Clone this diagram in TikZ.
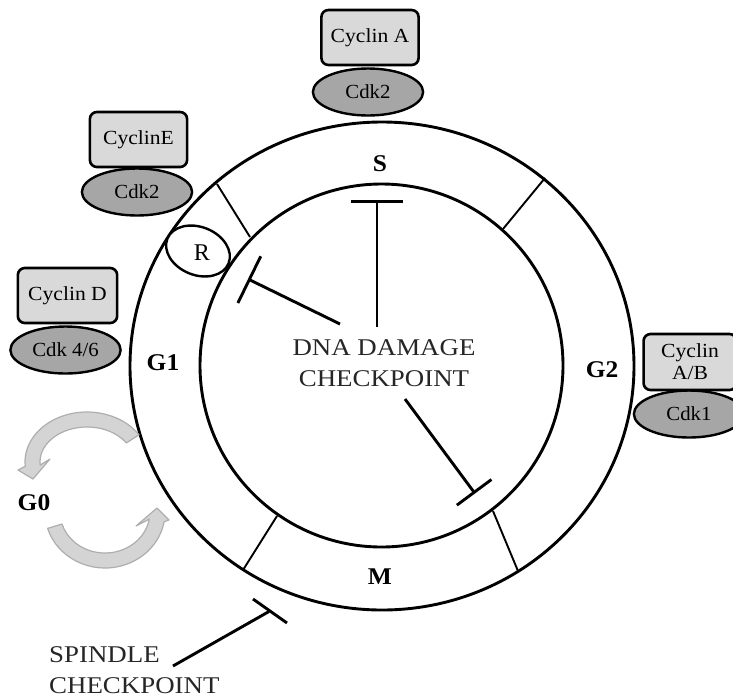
\documentclass[tikz,border=0pt]{standalone}
\usepackage{fontspec}
\setmainfont{Liberation Serif}
\usetikzlibrary{shapes.geometric,arrows.meta,calc}
\definecolor{boxgray}{HTML}{D9D9D9}
\definecolor{cdkgray}{HTML}{A6A6A6}
\definecolor{arrowfill}{HTML}{D4D4D4}
\definecolor{arrowline}{HTML}{AEAEAE}
\begin{document}
\begin{tikzpicture}[x=1pt,y=1pt,
  cyc/.style={draw, line width=2.6pt, rounded corners=7pt, fill=boxgray,
    minimum width=90pt, minimum height=55pt, inner sep=0pt, align=center,
    font=\fontsize{20}{22}\selectfont, xscale=1.08},
  cdk/.style={ellipse, draw, line width=2.4pt, fill=cdkgray,
    minimum width=106pt, minimum height=47pt, inner sep=0pt,
    font=\fontsize{20}{22}\selectfont, xscale=1.04},
  phase/.style={font=\bfseries\fontsize{24}{26}\selectfont, inner sep=0pt, xscale=1.06},
  bigtext/.style={font=\fontsize{24}{31}\selectfont, xscale=1.12, inner sep=0pt, text=black!85},
  ring/.style={line width=2.9pt},
  divider/.style={line width=1.9pt},
  inhib/.style={line width=2.9pt, -{Bar[width=#1, line width=2.9pt]}},
  bar/.style={line width=2.9pt},
  cycarrow/.style={fill=arrowfill, draw=arrowline, line width=1.2pt, line join=round}
]
\useasboundingbox (0,0) rectangle (733,-697);

% rings
\draw[ring] (382,-366) ellipse [x radius=252, y radius=244];
\draw[ring] (381.5,-365.5) circle [radius=181.5];

% phase dividers
\coordinate (d1o) at (217,-184); \coordinate (d1i) at (250,-237);
\coordinate (d2o) at (545,-178); \coordinate (d2i) at (503,-229);
\coordinate (d3o) at (518,-571); \coordinate (d3i) at (493,-511);
\coordinate (d4o) at (243,-570); \coordinate (d4i) at (277,-516);
\draw[divider] (d1o) -- (d1i);
\draw[divider] (d2o) -- (d2i);
\draw[divider] (d3o) -- (d3i);
\draw[divider] (d4o) -- (d4i);

% phase labels
\node[phase] (S) at (380,-164) {S};
\node[phase] (G1) at (163,-363) {G1};
\node[phase] (G2) at (602,-370) {G2};
\node[phase] (M) at (380,-577) {M};
\node[phase] (G0) at (34,-503) {G0};

% restriction point
\draw[line width=2.4pt, fill=white, rotate around={-22:(198,-251)}] (198,-251) ellipse [x radius=33, y radius=24];
\node[font=\fontsize{24}{26}\selectfont, inner sep=0pt] (R) at (202,-253) {R};

% cyclin / cdk complexes
\node[cdk] (cdkA) at (368,-92) {Cdk2};
\node[cyc] (cycA) at (370,-37.5) {Cyclin A};
\node[cdk] (cdkE) at (137,-192) {Cdk2};
\node[cyc] (cycE) at (138.5,-139.5) {CyclinE};
\node[cdk] (cdkD) at (65.5,-350) {Cdk 4/6};
\node[cyc, minimum width=92pt] (cycD) at (67.5,-295.5) {Cyclin D};
\node[cdk] (cdkB) at (689,-414) {Cdk1};
\node[cyc, minimum width=86pt, minimum height=56pt] (cycB) at (690,-362) {Cyclin\\A/B};

% DNA damage checkpoint
\node[bigtext, align=center] (dna) at (384,-363) {DNA DAMAGE\\CHECKPOINT};
\coordinate (dS0) at (377,-327); \coordinate (dS1) at (377,-200);
\coordinate (dG0) at (340,-324); \coordinate (dG1) at (248,-279);
\coordinate (dM0) at (405,-399); \coordinate (dM1) at (475,-493.5);
\draw[inhib=52pt] (dS0) -- (dS1);
\draw[inhib=52pt] (dG0) -- (dG1);
\draw[inhib=43pt] (dM0) -- (dM1);

% spindle checkpoint
\node[bigtext, align=left, anchor=west] (spin) at (49,-670) {SPINDLE\\CHECKPOINT};
\coordinate (sp0) at (173,-666); \coordinate (sp1) at (269,-611.5);
\coordinate (sb1) at (253,-599); \coordinate (sb2) at (287,-623);
\draw[bar] (sp0) -- (sp1);
\draw[bar] (sb1) -- (sb2);

% G0 cycling arrows
\coordinate (ua) at (87,-462);
\draw[cycarrow] ($(ua)+(33:62 and 50)$) arc[start angle=33, end angle=185, x radius=62, y radius=50]
  -- (18,-470) -- (33,-479) -- (50,-459)
  -- ($(ua)+(185:47 and 35)$) arc[start angle=185, end angle=33, x radius=47, y radius=35] -- cycle;
\coordinate (la) at (105,-512);
\draw[cycarrow] ($(la)+(197:60 and 56)$) arc[start angle=197, end angle=350, x radius=60, y radius=56]
  -- (169,-520) -- (157,-508) -- (136,-526)
  -- ($(la)+(350:45 and 41)$) arc[start angle=350, end angle=197, x radius=45, y radius=41] -- cycle;
\end{tikzpicture}
\end{document}
